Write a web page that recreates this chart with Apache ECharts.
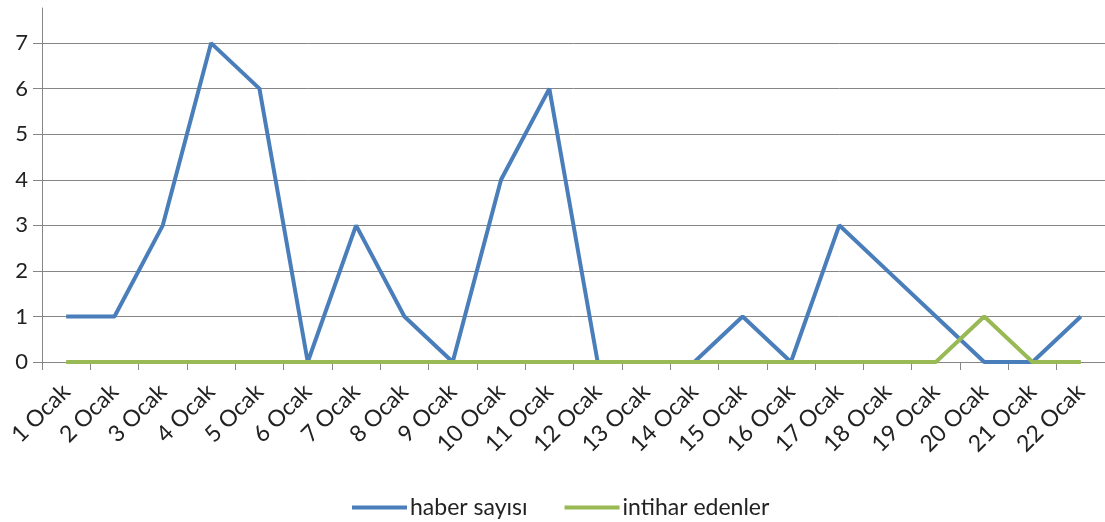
<!DOCTYPE html>
<html><head><meta charset="utf-8">
<script src="https://cdn.jsdelivr.net/npm/echarts@6/dist/echarts.min.js"></script>
<style>html,body{margin:0;padding:0;background:#fff}#c{width:1105px;height:522px}</style>
</head><body><div id="c"></div>
<script>
const categories = ['1 Ocak','2 Ocak','3 Ocak','4 Ocak','5 Ocak','6 Ocak','7 Ocak','8 Ocak','9 Ocak','10 Ocak','11 Ocak','12 Ocak','13 Ocak','14 Ocak','15 Ocak','16 Ocak','17 Ocak','18 Ocak','19 Ocak','20 Ocak','21 Ocak','22 Ocak'];
const haberSayisi = [1,1,3,7,6,0,3,1,0,4,6,0,0,0,1,0,3,2,1,0,0,1];
const intiharEdenler = [0,0,0,0,0,0,0,0,0,0,0,0,0,0,0,0,0,0,0,1,0,0];
const seriesNames = ['haber sayısı','intihar edenler'];
const font = 'Lato, "Open Sans", sans-serif';
const chart = echarts.init(document.getElementById('c'));
chart.setOption({
  animation: false,
  grid: {left: 42, top: 8, width: 1069, bottom: 160, containLabel: false},
  legend: {
    top: 491, left: 347, itemWidth: 55, itemHeight: 4, itemGap: 37, icon: 'rect',
    textStyle: {fontFamily: font, fontSize: 23, color: '#222', padding: [0,0,0,-2]},
    data: seriesNames
  },
  xAxis: {
    type: 'category', data: categories, boundaryGap: true,
    axisLine: {lineStyle: {color: '#868686', width: 1}},
    axisTick: {show: true, length: 8, lineStyle: {color: '#868686'}},
    axisLabel: {rotate: 45, fontFamily: font, fontSize: 23, color: '#222', margin: 26, interval: 0,
      padding: [23, 0, 0, 0]}
  },
  yAxis: {
    type: 'value', min: 0, max: 7.77, interval: 1,
    axisLine: {show: true, lineStyle: {color: '#868686', width: 1}},
    axisTick: {show: true, length: 9, lineStyle: {color: '#868686'}},
    axisLabel: {fontFamily: font, fontSize: 22, color: '#222', margin: 14, showMaxLabel: false,
      formatter: v => Number.isInteger(v) ? String(v) : ''},
    splitLine: {show: true, showMaxLine: false, lineStyle: {color: '#868686', width: 1}}
  },
  series: [
    {name: seriesNames[0], type: 'line', data: haberSayisi, showSymbol: false, symbol: 'none',
     lineStyle: {color: '#4A7EBB', width: 4}, itemStyle: {color: '#4A7EBB'}, z: 3},
    {name: seriesNames[1], type: 'line', data: intiharEdenler, showSymbol: false, symbol: 'none',
     lineStyle: {color: '#98B954', width: 4}, itemStyle: {color: '#98B954'}, z: 4}
  ]
});
</script></body></html>
